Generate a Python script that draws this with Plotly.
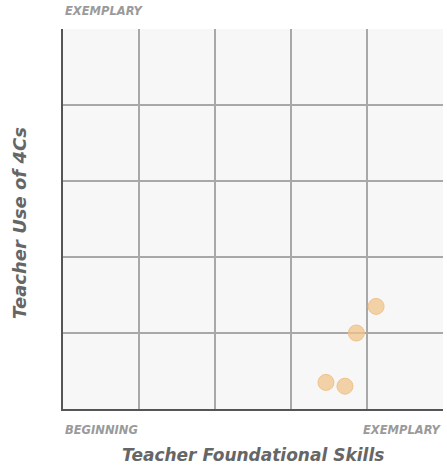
import plotly.graph_objects as go

foundational = [4.12, 3.86, 3.46, 3.71]
use_4cs = [1.35, 1.00, 0.35, 0.30]
x_labels = ["BEGINNING", "EXEMPLARY"]
y_top_label = "EXEMPLARY"
x_title = "Teacher Foundational Skills"
y_title = "Teacher Use of 4Cs"

FONT = "'DejaVu Sans', sans-serif"

fig = go.Figure()
fig.add_trace(go.Scatter(
    x=foundational, y=use_4cs, mode="markers",
    marker=dict(size=16, color="rgba(240,196,140,0.75)",
                line=dict(color="rgba(238,190,130,0.9)", width=1)),
    hoverinfo="skip", showlegend=False,
))

fig.update_layout(
    width=447, height=471,
    margin=dict(l=63, r=4, t=29, b=62),
    paper_bgcolor="white",
    plot_bgcolor="#f7f7f7",
    font=dict(family=FONT),
    xaxis=dict(range=[0, 5], dtick=1, showticklabels=False, showgrid=True,
               gridcolor="#a8a8a8", gridwidth=1.5, zeroline=False,
               showline=True, linecolor="#555555", linewidth=2,
               mirror=False, ticks="", fixedrange=True),
    yaxis=dict(range=[0, 5], dtick=1, showticklabels=False, showgrid=True,
               gridcolor="#a8a8a8", gridwidth=1.5, zeroline=False,
               showline=True, linecolor="#555555", linewidth=2,
               mirror=False, ticks="", fixedrange=True),
)

lab = dict(family=FONT, size=11.5, color="#9a9a9a")
fig.add_annotation(x=0, y=1, xref="paper", yref="paper", text=f"<b><i>{y_top_label}</i></b>",
                   showarrow=False, xanchor="left", yanchor="middle", yshift=18, font=lab)
fig.add_annotation(x=0, y=0, xref="paper", yref="paper", text=f"<b><i>{x_labels[0]}</i></b>",
                   showarrow=False, xanchor="left", yanchor="middle", yshift=-21, font=lab)
fig.add_annotation(x=1, y=0, xref="paper", yref="paper", text=f"<b><i>{x_labels[1]}</i></b>",
                   showarrow=False, xanchor="right", yanchor="middle", yshift=-21, font=lab)
fig.add_annotation(x=0.5, y=0, xref="paper", yref="paper", text=f"<b><i>{x_title}</i></b>",
                   showarrow=False, xanchor="center", yanchor="middle", yshift=-46,
                   font=dict(family=FONT, size=17, color="#666666"))
fig.add_annotation(x=0, y=0.5, xref="paper", yref="paper", text=f"<b><i>{y_title}</i></b>",
                   showarrow=False, xanchor="center", yanchor="middle", xshift=-44, yshift=-4,
                   textangle=-90, font=dict(family=FONT, size=18, color="#666666"))

fig.write_html("out.html", config={"displayModeBar": False},
               post_script="document.body.style.margin='0';")
